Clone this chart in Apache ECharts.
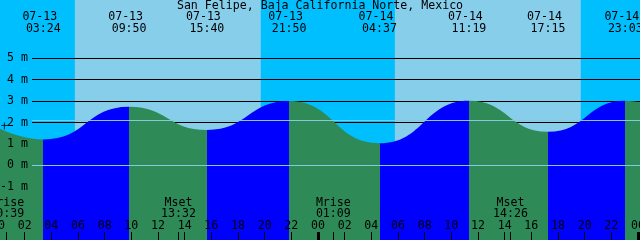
<!DOCTYPE html>
<html><head><meta charset="utf-8">
<script src="https://cdn.jsdelivr.net/npm/echarts@6/dist/echarts.min.js"></script>
<style>html,body{margin:0;padding:0;background:#fff}#c{width:640px;height:240px}</style>
</head><body><div id="c"></div>
<script>
// ---- data ----
const chartTitle = 'San Felipe, Baja California Norte, Mexico';
const extremeTimes = ['07-12 21:06','07-13 03:24','07-13 09:50','07-13 15:40','07-13 21:50','07-14 04:37','07-14 11:19','07-14 17:15','07-14 23:03','07-15 05:45'];
const extremeHeights = [2.9, 1.21, 2.74, 1.65, 3.0, 1.03, 3.02, 1.57, 3.02, 0.9];
const sunTimes = ['07-12 19:43','07-13 05:46','07-13 19:43','07-14 05:46','07-14 19:43','07-15 05:46']; // set, rise, set, ...
const moonTimes = ['07-13 00:39','07-13 13:32','07-14 01:09','07-14 14:26'];
const moonNames = ['Mrise','Mset','Mrise','Mset'];
const heightTicks = [-1, 0, 1, 2, 3, 4, 5];
const midnights = [0, 24, 48];
const meanLevel = 2.12;
const datumLevel = 0;
const markerTime = '07-13 00:31';
const markerHeight = 1.84;

// ---- helpers / layout ----
function toHours(s) {
  const [d, t] = s.split(' ');
  const day = parseInt(d.split('-')[1], 10);
  const [h, m] = t.split(':').map(Number);
  return (day - 13) * 24 + h + m / 60;
}
const FONT = 'DejaVu Sans Mono';
const FS = 11.6;
const W = 640, H = 240, pxPerM = 21.4, zeroY = 165.3;
const pxPerHour = W / 48, gridL = -2, gridR = -2;
const X_MAX = (W - gridL - gridR) / pxPerHour;
const C_NIGHT = '#00BFFF', C_DAY = '#87CEEB', C_RISE = '#0000FF', C_FALL = '#2E8B57';

const exHours = extremeTimes.map(toHours);
const tideData = exHours.map((h, i) => [h, extremeHeights[i]]);
const visibleEx = exHours.map((h, i) => i).filter(i => exHours[i] >= 0 && exHours[i] <= 48);

const pieces = [];
for (let i = 0; i < exHours.length - 1; i++) {
  const p = { color: extremeHeights[i + 1] > extremeHeights[i] ? C_RISE : C_FALL };
  if (i > 0) p.gte = exHours[i];
  if (i < exHours.length - 2) p.lt = exHours[i + 1];
  pieces.push(p);
}
const sunH = sunTimes.map(toHours);
const skyBands = [];
for (let i = 0; i < sunH.length - 1; i++) {
  skyBands.push([{ xAxis: sunH[i], itemStyle: { color: i % 2 === 0 ? C_NIGHT : C_DAY } }, { xAxis: sunH[i + 1] }]);
}
const moonH = moonTimes.map(toHours);

const chart = echarts.init(document.getElementById('c'), null, { renderer: 'canvas' });
const txt = { fontFamily: FONT, fontSize: FS, color: '#000' };
const noLine = { show: false, onZero: false };
chart.setOption({
  animation: false,
  backgroundColor: C_NIGHT,
  title: { text: chartTitle, left: 'center', top: 0, padding: 0, textStyle: Object.assign({ fontWeight: 'normal', lineHeight: 12 }, txt), z: 12 },
  grid: [
    { left: gridL, right: gridR, top: 0, bottom: 0, containLabel: false, outerBoundsMode: 'none' },
    { left: 32, right: 0, top: zeroY - 5 * pxPerM, bottom: H - (zeroY + pxPerM), containLabel: false, outerBoundsMode: 'none' }
  ],
  visualMap: { type: 'piecewise', show: false, dimension: 0, seriesIndex: 0, pieces: pieces, outOfRange: { color: C_FALL } },
  xAxis: [
    { gridIndex: 0, type: 'value', min: 0, max: X_MAX, interval: 2, position: 'bottom', z: 10,
      axisLine: noLine, splitLine: { show: false },
      axisTick: { show: true, inside: true, length: 8, lineStyle: { color: '#000', width: 1 } },
      axisLabel: Object.assign({ inside: true, margin: 8, interval: 0, showMinLabel: true, showMaxLabel: true, hideOverlap: false,
        formatter: v => (Math.abs(v - Math.round(v)) < 1e-6 ? String(Math.round(v) % 24).padStart(2, '0') : '') }, txt) },
    { gridIndex: 0, type: 'value', min: 0, max: X_MAX, position: 'bottom', z: 10,
      axisLine: noLine, splitLine: { show: false }, axisLabel: { show: false },
      axisTick: { show: true, inside: true, length: 8, customValues: midnights, lineStyle: { color: '#000', width: 3 } } },
    { gridIndex: 0, type: 'value', min: 0, max: X_MAX, position: 'bottom', z: 10,
      axisLine: noLine, splitLine: { show: false },
      axisTick: { show: true, inside: true, length: 8, customValues: moonH, lineStyle: { color: '#000', width: 1 } },
      axisLabel: Object.assign({ inside: true, margin: 21, lineHeight: 11, customValues: moonH, hideOverlap: false,
        formatter: v => { const i = moonH.findIndex(m => Math.abs(m - v) < 1e-6); return i < 0 ? '' : moonNames[i] + '\n' + moonTimes[i].split(' ')[1]; } }, txt) },
    { gridIndex: 0, type: 'value', min: 0, max: X_MAX, position: 'top', z: 10,
      axisLine: noLine, splitLine: { show: false }, axisTick: { show: false },
      axisLabel: Object.assign({ inside: true, margin: 11, lineHeight: 12, customValues: visibleEx.map(i => exHours[i]), hideOverlap: false,
        formatter: v => { const i = exHours.findIndex(m => Math.abs(m - v) < 1e-6); if (i < 0) return ''; const p = extremeTimes[i].split(' '); return p[0] + ' \n' + p[1]; } }, txt) },
    { gridIndex: 1, type: 'value', min: 0, max: 48, show: false, axisLine: noLine }
  ],
  yAxis: [
    { gridIndex: 0, type: 'value', min: -(H - zeroY) / pxPerM, max: zeroY / pxPerM, show: false, splitLine: { show: false }, axisLine: noLine },
    { gridIndex: 1, type: 'value', min: heightTicks[0], max: heightTicks[heightTicks.length - 1], interval: 1, show: false, splitLine: { show: false }, axisLine: noLine },
    { gridIndex: 1, type: 'value', min: heightTicks[0], max: heightTicks[heightTicks.length - 1], interval: 1, z: 10, position: 'left',
      axisLine: noLine, axisTick: { show: false }, splitLine: { show: false },
      axisLabel: Object.assign({ margin: 4, formatter: v => v + ' m' }, txt) }
  ],
  series: [
    { type: 'line', xAxisIndex: 0, yAxisIndex: 0, data: tideData, smooth: 0.5, smoothMonotone: 'x', clip: false,
      symbol: 'none', z: 3, lineStyle: { width: 0 }, areaStyle: { opacity: 1, origin: 'start' }, silent: true,
      markArea: { z: 0, silent: true, data: skyBands } },
    { type: 'line', xAxisIndex: 4, yAxisIndex: 1, data: [], silent: true, z: 1,
      markLine: { z: 1, silent: true, symbol: 'none', label: { show: false },
        lineStyle: { color: '#000', width: 1, type: 'solid' },
        data: heightTicks.map(v => ({ yAxis: v })) } },
    { type: 'line', xAxisIndex: 4, yAxisIndex: 1, data: [], silent: true, z: 5,
      markLine: { z: 5, silent: true, symbol: 'none', label: { show: false },
        lineStyle: { color: '#87C8DC', width: 1, type: 'solid' },
        data: [{ yAxis: meanLevel }, { yAxis: datumLevel }] } },
    { type: 'scatter', xAxisIndex: 0, yAxisIndex: 0, z: 10, silent: true, clip: false,
      data: [[toHours(markerTime), markerHeight]],
      symbol: 'path://M0,3H7M3,0V7', symbolSize: 7, itemStyle: { color: 'none', borderColor: '#000', borderWidth: 1 } }
  ]
});
</script></body></html>
